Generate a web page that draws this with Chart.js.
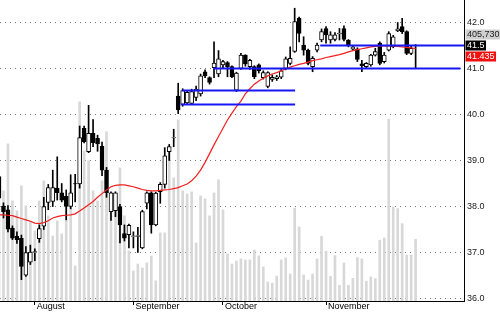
<!DOCTYPE html>
<html><head><meta charset="utf-8">
<script src="https://cdn.jsdelivr.net/npm/chart.js@4"></script>
<style>html,body{margin:0;padding:0;background:#fff}#wrap{width:500px;height:312px}</style>
</head><body><div id="wrap"><canvas id="c" width="500" height="312"></canvas></div>
<script>
// ---- data ----
const opens  = [38.65,38.01,37.93,37.53,37.35,37.31,36.51,36.79,37.00,37.30,37.57,38.09,38.11,38.40,38.30,38.22,38.00,38.50,38.49,39.70,
                39.19,39.59,39.48,39.31,38.79,37.89,37.91,38.00,37.41,37.39,37.35,37.35,37.10,38.07,38.30,37.60,38.32,38.48,39.19,39.49,
                40.40,40.22,40.25,40.24,40.37,40.45,40.93,40.80,41.02,40.88,41.08,41.13,41.04,40.53,41.00,41.29,41.04,41.04,41.08,40.80,
                40.61,40.76,40.78,40.81,41.00,41.11,41.37,42.09,41.51,41.40,41.04,41.40,41.62,41.87,41.62,41.63,41.75,41.87,41.61,41.42,
                41.42,41.10,41.04,41.08,41.29,41.55,41.15,41.40,41.47,41.82,41.91,41.80,41.33,41.50];
const highs  = [38.80,38.08,38.02,37.58,37.45,37.38,37.13,37.16,37.08,37.60,38.20,38.48,38.79,39.08,38.50,38.36,38.69,38.70,39.75,39.75,
                40.20,39.89,39.55,39.40,38.85,38.32,38.32,38.05,37.60,37.62,37.45,37.55,37.92,38.32,38.32,38.31,38.52,39.28,39.35,39.68,
                40.68,40.56,40.52,40.55,40.62,40.88,40.97,40.82,41.58,41.39,41.18,41.15,41.06,40.92,41.33,41.30,41.20,41.06,41.10,40.95,
                40.93,40.86,40.85,40.98,41.25,41.47,42.31,42.12,41.69,41.42,41.26,41.55,41.86,41.91,41.80,41.78,41.87,41.93,41.63,41.50,
                41.45,41.18,41.13,41.31,41.44,41.58,41.35,41.80,41.72,42.00,42.09,41.82,41.50,41.52];
const lows   = [38.10,37.75,37.45,37.28,37.20,36.41,36.48,36.74,36.82,37.22,37.50,37.93,38.00,38.14,38.10,37.71,37.95,38.10,38.40,39.38,
                39.17,39.30,39.20,38.67,38.20,37.70,37.78,37.21,37.25,37.10,37.10,37.00,37.08,37.95,37.42,37.58,38.07,38.40,39.00,39.30,
                40.02,40.18,40.22,40.22,40.30,40.40,40.80,40.66,40.80,40.82,41.00,40.82,40.80,40.50,40.98,41.05,40.98,40.78,40.90,40.77,
                40.58,40.72,40.74,40.78,40.97,41.08,41.35,41.58,41.29,41.08,40.93,41.36,41.58,41.55,41.55,41.60,41.62,41.60,41.47,41.40,
                41.15,40.93,41.00,41.05,41.27,41.08,41.12,41.38,41.45,41.80,41.76,41.30,41.30,41.00];
const closes = [38.18,37.89,37.51,37.31,37.28,36.70,37.00,37.01,37.02,37.52,38.00,38.41,38.41,38.30,38.14,38.00,38.30,38.49,39.50,39.41,
                39.59,39.39,39.36,38.79,38.30,38.30,38.30,37.60,37.31,37.59,37.36,37.37,37.89,38.30,37.60,38.29,38.48,39.10,39.30,39.50,
                40.10,40.52,40.48,40.50,40.55,40.84,40.84,40.70,41.12,41.21,41.15,41.04,40.82,40.90,41.29,41.10,41.18,40.82,40.95,40.91,
                40.91,40.81,40.82,40.95,41.21,41.22,42.02,41.76,41.40,41.11,41.22,41.51,41.80,41.73,41.73,41.73,41.77,41.63,41.51,41.47,
                41.20,41.06,41.11,41.29,41.37,41.11,41.29,41.76,41.69,41.86,41.80,41.33,41.44,41.50];
const volumes = [822000,723000,1032000,658000,592000,756000,625000,526000,460000,658000,789000,559000,427000,526000,441000,625000,723000,230000,1308000,986000,
                 921000,723000,658000,789000,1111000,658000,592000,874000,559000,329000,197000,243000,217000,250000,296000,132000,447000,447000,986000,809000,
                 1190000,723000,704000,717000,381000,690000,671000,559000,710000,796000,598000,309000,243000,263000,276000,270000,270000,335000,296000,224000,
                 125000,118000,164000,270000,283000,178000,611000,487000,171000,138000,178000,276000,425000,327000,162000,298000,103000,250000,103000,149000,
                 285000,276000,130000,158000,147000,399000,414000,1195000,618000,607000,508000,300000,300000,405730];
const movingAvg = [37.82,37.82,37.81,37.80,37.77,37.74,37.71,37.68,37.64,37.63,37.65,37.69,37.75,37.78,37.80,37.81,37.82,37.84,37.90,37.97,
                   38.04,38.11,38.20,38.28,38.36,38.43,38.46,38.47,38.47,38.45,38.43,38.40,38.37,38.35,38.34,38.34,38.35,38.36,38.37,38.39,
                   38.41,38.45,38.49,38.56,38.66,38.79,38.96,39.15,39.34,39.52,39.70,39.88,40.03,40.17,40.29,40.45,40.56,40.66,40.73,40.79,
                   40.84,40.88,40.91,40.95,40.99,41.03,41.06,41.09,41.11,41.14,41.17,41.19,41.21,41.24,41.26,41.28,41.30,41.33,41.36,41.39,
                   41.41,41.43,41.45,41.47,41.48,41.49,41.49,41.49,41.49,41.48,41.47,41.46,41.45,41.435];
const monthTicks  = [8, 30, 50, 73];
const monthLabels = ['August', 'September', 'October', 'November'];
const priceTicks  = [36, 37, 38, 39, 40, 41, 42];
const levelValues = [40.22, 40.52, 41.0, 41.5];
const levelStarts = [40.6, 40.9, 47.8, 71.7];
const levelEnds   = [66.1, 66.1, 103.0, 103.8];
const lastVolumeText = '405,730';
const lastPrice = 41.5;
const lastMA = 41.435;

// ---- chart ----
const FONT = '"Liberation Sans", Arial, sans-serif';
const xy = arr => arr.map((v, i) => ({x: i, y: v}));

const levelSets = levelValues.map((v, k) => ({
  type: 'line', data: [{x: levelStarts[k], y: v}, {x: levelEnds[k], y: v}],
  borderColor: '#1717f5', borderWidth: 2, pointRadius: 0, order: 2, yAxisID: 'y'
}));

const valueBoxes = {
  id: 'valueBoxes',
  afterDraw(chart) {
    const ctx = chart.ctx, ys = chart.scales.y;
    const x0 = chart.chartArea.right + 1.5;
    const c = ys.getPixelForValue(lastPrice);
    ctx.save();
    ctx.font = '9px ' + FONT;
    ctx.textBaseline = 'middle';
    const boxes = [
      {t: lastVolumeText, bg: '#cfcfcf', fg: '#222', cy: c - 11},
      {t: lastPrice.toFixed(1), bg: '#000', fg: '#fff', cy: c},
      {t: lastMA.toFixed(3), bg: '#f01010', fg: '#fff', cy: c + 11}
    ];
    boxes.forEach(b => {
      const w = ctx.measureText(b.t).width + 3;
      ctx.fillStyle = b.bg;
      ctx.fillRect(x0, b.cy - 5, w, 10);
      ctx.fillStyle = b.fg;
      ctx.fillText(b.t, x0 + 1.5, b.cy + 0.5);
    });
    ctx.restore();
  }
};

new Chart(document.getElementById('c'), {
  type: 'bar',
  data: {
    datasets: [
      {label: 'Volume', data: xy(volumes), yAxisID: 'yv', backgroundColor: '#d8d8d8',
       barThickness: 2, grouped: false, order: 10},
      {label: 'Range', data: lows.map((l, i) => ({x: i, y: [l, highs[i]]})), yAxisID: 'y',
       backgroundColor: '#000', barThickness: 1, grouped: false, order: 6},
      {label: 'Body', data: opens.map((o, i) => ({x: i, y: [o, closes[i]]})), yAxisID: 'y',
       backgroundColor: opens.map((o, i) => closes[i] >= o ? '#fff' : '#000'),
       borderColor: '#000', borderWidth: 1, borderSkipped: false,
       barThickness: 4, grouped: false, order: 5},
      {type: 'line', label: 'MA', data: xy(movingAvg), yAxisID: 'y', borderColor: '#f02020',
       borderWidth: 1.2, pointRadius: 0, order: 3},
      ...levelSets
    ]
  },
  options: {
    responsive: false, devicePixelRatio: 1, animation: false,
    layout: {padding: 0},
    plugins: {legend: {display: false}, tooltip: {enabled: false}},
    scales: {
      x: {
        type: 'linear', min: 0.223, max: 103.8, offset: false,
        afterBuildTicks: s => { s.ticks = monthTicks.map(v => ({value: v})); },
        afterFit: s => { s.height = 11; s.paddingLeft = 0; s.paddingRight = 0; },
        grid: {offset: false, drawOnChartArea: false, drawTicks: true, tickLength: 4, tickColor: '#000', color: '#000'},
        border: {display: true, color: '#000', width: 1},
        ticks: {align: 'start', padding: -4, labelOffset: 2, maxRotation: 0, autoSkip: false,
                color: '#000', font: {family: FONT, size: 9},
                callback: (v, i) => monthLabels[i]}
      },
      y: {
        position: 'right', min: 35.946, max: 42.489,
        afterBuildTicks: s => { s.ticks = priceTicks.map(v => ({value: v})); },
        afterFit: s => { s.width = 36; s.paddingTop = 0; s.paddingBottom = 0; },
        grid: {drawTicks: false, color: '#7a7a7a', lineWidth: 1},
        border: {display: true, color: '#000', width: 1, dash: [1, 4]},
        ticks: {padding: 3, color: '#1a1a1a', font: {family: FONT, size: 9},
                callback: v => Number(v).toFixed(1)}
      },
      yv: {display: false, min: 0, max: 1977000}
    }
  },
  plugins: [valueBoxes]
});
</script></body></html>
